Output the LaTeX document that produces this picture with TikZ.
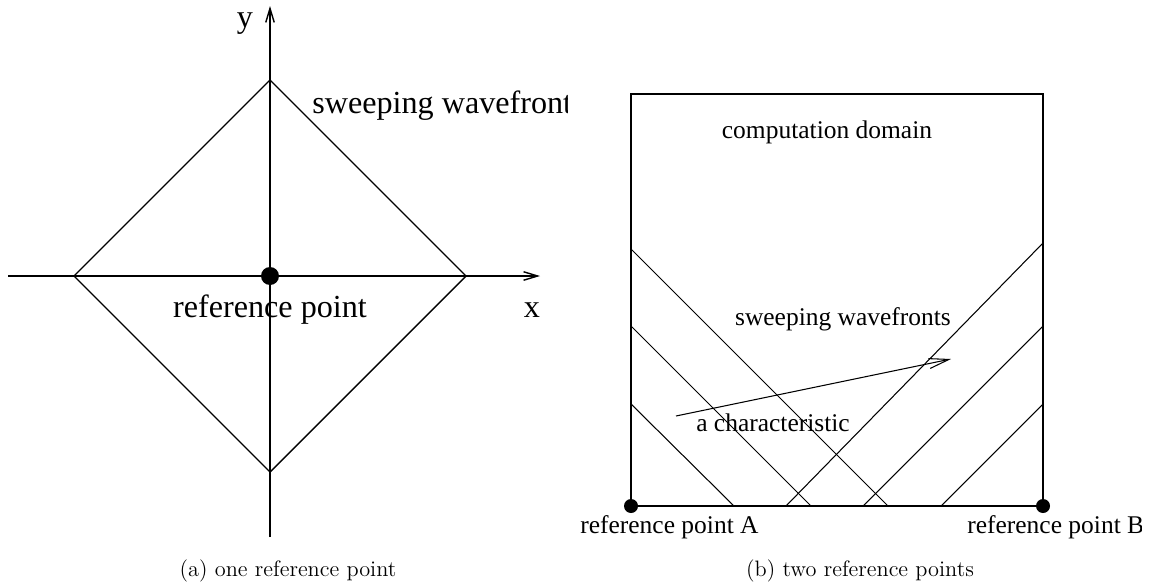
\documentclass[tikz,border=0pt]{standalone}
\usepackage{fontspec}
\newfontfamily\figfont{Liberation Serif}
\usetikzlibrary{arrows.meta}

\tikzset{
  axisline/.style={line width=0.8pt, -{Straight Barb[length=0.28cm,width=0.17cm]}},
  frontline/.style={line width=0.8pt},
  domainline/.style={line width=0.6pt},
  refdot/.style={circle, fill=black, inner sep=0pt, minimum size=#1},
  biglabel/.style={font=\figfont\fontsize{18.3}{20}\selectfont, inner sep=0pt},
  smalllabel/.style={font=\figfont\fontsize{14.5}{16}\selectfont, inner sep=0pt},
  caption/.style={font=\fontsize{12.7}{15}\selectfont, inner sep=0pt}
}

\begin{document}
\begin{tikzpicture}[x=0.02cm, y=-0.02cm]
  \useasboundingbox (0,0) rectangle (1150,585);

  % (a) one reference point
  \coordinate (xleft) at (8,276);
  \coordinate (xright) at (540,276);
  \coordinate (ybottom) at (270,537);
  \coordinate (ytop) at (270,6);
  \draw[axisline] (xleft) -- (xright);
  \draw[axisline] (ybottom) -- (ytop);
  \coordinate (dtop) at (270,80);
  \coordinate (dright) at (466,276);
  \coordinate (dbottom) at (270,472);
  \coordinate (dleft) at (74,276);
  \draw[frontline] (dtop) -- (dright) -- (dbottom) -- (dleft) -- cycle;
  \node[refdot=0.36cm] (ref) at (270,276) {};
  \node[biglabel] (ylab) at (245,24) {y};
  \node[biglabel] (xlab) at (532,310) {x};
  \node[biglabel] (reflab) at (270,310) {reference point};
  \begin{scope}
    \clip (0,0) rectangle (567,585);
    \node[biglabel, anchor=west] (sweeplab) at (312,106) {sweeping wavefront};
  \end{scope}
  \node[caption] (capa) at (288,571) {(a) one reference point};

  % (b) two reference points
  \coordinate (ptA) at (631,506);
  \coordinate (ptB) at (1043,506);
  \coordinate (topA) at (631,94);
  \coordinate (topB) at (1043,94);
  \draw[domainline] (ptA) -- (topA) -- (topB) -- (ptB);
  \draw[line width=1pt] (ptA) -- (ptB);
  \foreach \ya/\xb in {249/888, 326/811, 404/734}
    \draw[domainline] (631,\ya) -- (\xb,506);
  \foreach \xa/\yb in {786/243, 863/326, 941/404}
    \draw[domainline] (\xa,506) -- (1043,\yb);
  \node[refdot=0.28cm] (refA) at (ptA) {};
  \node[refdot=0.28cm] (refB) at (ptB) {};
  \node[smalllabel] (domlab) at (827,132) {computation domain};
  \node[smalllabel] (wavelab) at (843,319) {sweeping wavefronts};
  \node[smalllabel] (charlab) at (773,423) {a characteristic};
  \coordinate (charstart) at (676,416);
  \coordinate (charend) at (951,359);
  \draw[domainline, -{Straight Barb[length=0.4cm,width=0.2cm]}] (charstart) -- (charend);
  \node[smalllabel, anchor=west] (labA) at (580,527) {reference point A};
  \begin{scope}
    \clip (0,0) rectangle (1141,585);
    \node[smalllabel, anchor=west] (labB) at (967,527) {reference point B};
  \end{scope}
  \node[caption] (capb) at (860,571) {(b) two reference points};
\end{tikzpicture}
\end{document}
